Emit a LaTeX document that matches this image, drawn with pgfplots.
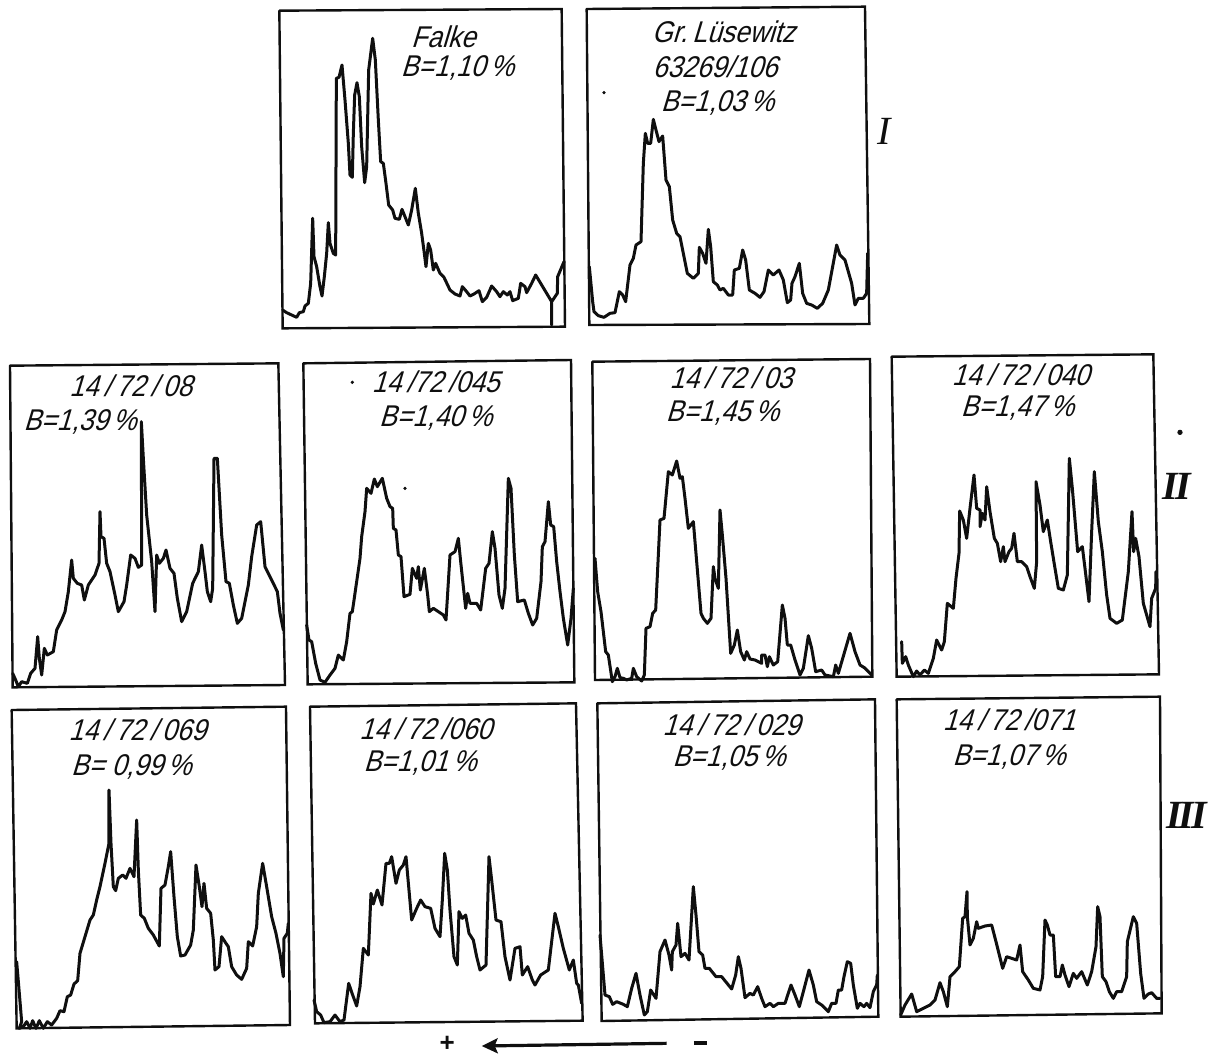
\documentclass[border=0pt]{standalone}
\usepackage{fontspec}
\usepackage{pgfplots}
\pgfplotsset{compat=1.18}
\usetikzlibrary{arrows.meta}
\setmainfont{Liberation Sans}
\newfontfamily\romanf{Liberation Serif}
\newfontfamily\lblf[FakeSlant=0.3,FakeStretch=0.88]{Liberation Sans}
\definecolor{ink}{gray}{0.06}
\pgfplotsset{
  panel/.style n args={6}{at={(#1pt,#2pt)},anchor=south west,width=#3pt,height=#4pt,
    xmin=0,xmax=#5,ymin=0,ymax=#6,scale only axis,axis lines=none,y dir=reverse,clip=false,ticks=none},
  curve/.style={ink,line width=1.5pt,line join=round,line cap=round,mark=none},
  frame/.style={ink,line width=1.2pt,line join=miter,line cap=round,mark=none},
  speck/.style={ink,only marks,mark=*,mark size=0.6pt}
}
\tikzset{lbl/.style={text=ink,font=\fontsize{15}{15}\selectfont\lblf,inner sep=0pt},
  rom/.style={text=ink,font=\fontsize{20}{20}\selectfont\romanf\itshape\bfseries,inner sep=0pt},
  romlight/.style={text=ink,font=\fontsize{20}{20}\selectfont\romanf\itshape,inner sep=0pt}}
\begin{document}
\begin{tikzpicture}
\path[use as bounding box] (0,0) rectangle (605pt,528.5pt);

% Falke
\begin{axis}[panel={135}{361}{155}{167.5}{930}{1005}]
\addplot[frame] coordinates {(28,32)(875,27)(885,980)(38,985)(28,32)};
\addplot[curve] coordinates {(38,930)(50,938)(65,945)(80,952)(88,938)(100,935)(105,918)(115,910)(122,850)(128,655)(132,770)(140,800)(150,860)(156,888)(163,830)(170,760)(175,668)(180,730)(190,760)(197,765)(199,235)(207,232)(216,195)(225,300)(235,430)(240,525)(247,532)(250,400)(254,285)(261,248)(268,290)(275,440)(284,548)(290,500)(296,210)(308,115)(316,180)(325,360)(332,485)(340,490)(348,550)(356,615)(368,630)(375,655)(388,658)(396,628)(405,650)(415,675)(425,630)(436,565)(445,640)(455,700)(463,760)(468,800)(475,730)(482,750)(490,810)(497,790)(510,820)(522,832)(540,870)(555,882)(570,888)(577,860)(590,875)(600,888)(612,882)(627,872)(637,905)(650,892)(665,858)(680,875)(690,890)(700,875)(712,885)(720,875)(728,902)(745,895)(752,850)(765,860)(770,878)(785,850)(797,825)(812,850)(830,880)(845,905)(845,975)(845,905)(862,880)(863,830)(882,785)};
\node[lbl] at (axis cs:520,110) {Falke};
\node[lbl] at (axis cs:562,205) {B=1,10\,\%};
\end{axis}

% Gr. Luesewitz
\begin{axis}[panel={290}{361}{160}{167.5}{960}{1005}]
\addplot[frame] coordinates {(20,27)(855,20)(868,972)(28,975)(20,27)};
\addplot[curve] coordinates {(28,800)(38,905)(42,935)(55,947)(72,952)(90,940)(105,938)(118,875)(128,885)(137,905)(150,795)(160,775)(168,735)(183,725)(190,490)(196,400)(203,430)(212,430)(220,358)(228,390)(237,425)(248,408)(258,540)(268,560)(278,660)(290,700)(300,710)(312,770)(322,820)(340,835)(355,820)(358,742)(368,760)(378,790)(385,688)(392,740)(400,845)(412,855)(420,870)(430,865)(445,885)(458,885)(463,810)(478,805)(488,750)(497,780)(508,870)(525,880)(540,892)(552,875)(565,810)(580,825)(597,810)(610,840)(622,908)(632,900)(636,850)(645,830)(658,790)(668,880)(680,910)(695,915)(712,925)(728,910)(745,870)(770,735)(780,765)(795,780)(815,850)(825,915)(835,895)(850,895)(860,880)(863,760)};
\addplot[speck] coordinates {(72,278)};
\node[lbl] at (axis cs:430,95) {Gr.\,Lüsewitz};
\node[lbl] at (axis cs:405,200) {63269/106};
\node[lbl] at (axis cs:412,308) {B=1,03\,\%};
\node[romlight] at (axis cs:912,395) {I};
\end{axis}

% 14/72/08
\begin{axis}[panel={0}{181}{147.5}{170}{885}{1020}]
\addplot[frame] coordinates {(30,32)(835,25)(855,990)(38,997)(30,32)};
\addplot[curve] coordinates {(38,955)(47,975)(55,995)(65,980)(82,985)(92,955)(105,940)(113,845)(118,910)(125,960)(133,880)(142,900)(160,890)(170,825)(185,795)(195,770)(205,710)(215,615)(220,670)(232,685)(245,690)(253,735)(265,690)(285,660)(297,625)(300,470)(303,545)(312,550)(320,625)(330,650)(345,720)(355,770)(372,740)(380,690)(392,600)(405,610)(415,637)(425,630)(424,200)(430,310)(440,480)(455,620)(465,770)(470,600)(478,625)(490,610)(498,585)(510,640)(522,655)(532,730)(545,800)(560,770)(578,685)(595,650)(605,570)(615,650)(622,710)(632,740)(638,700)(642,310)(652,310)(665,540)(678,680)(688,685)(700,750)(712,805)(725,790)(745,690)(755,605)(770,510)(782,500)(795,635)(815,675)(832,710)(840,775)(850,825)};
\node[lbl] at (axis cs:392,92) {14\,/\,72\,/\,08};
\node[lbl] at (axis cs:240,200) {B=1,39\,\%};
\end{axis}

% 14/72/045
\begin{axis}[panel={147.5}{181}{147.5}{170}{885}{1020}]
\addplot[frame] coordinates {(25,25)(828,15)(838,982)(38,988)(25,25)};
\addplot[curve] coordinates {(35,810)(42,855)(50,860)(62,925)(75,975)(90,982)(105,960)(120,940)(130,900)(145,915)(155,860)(165,775)(172,770)(185,680)(195,610)(200,545)(210,470)(215,400)(228,415)(238,372)(247,395)(262,370)(275,430)(285,455)(293,460)(295,520)(303,525)(310,600)(318,605)(327,725)(345,718)(352,640)(365,670)(370,635)(376,705)(388,640)(398,720)(403,770)(415,760)(430,770)(445,780)(453,795)(465,600)(480,590)(490,550)(497,620)(512,760)(518,715)(525,745)(545,745)(557,765)(572,640)(582,625)(592,530)(600,580)(612,720)(622,760)(630,700)(640,370)(648,400)(658,600)(668,740)(688,735)(700,775)(713,810)(725,790)(738,680)(742,575)(750,560)(760,440)(767,510)(776,515)(785,620)(795,710)(805,790)(818,870)(828,790)(835,700)};
\addplot[speck] coordinates {(172,82)(330,400)};
\node[lbl] at (axis cs:422,80) {14\,/72\,/045};
\node[lbl] at (axis cs:422,190) {B=1,40\,\%};
\end{axis}

% 14/72/03
\begin{axis}[panel={292.5}{183.5}{147.5}{167.5}{885}{1005}]
\addplot[frame] coordinates {(22,20)(855,12)(862,965)(30,975)(22,20)};
\addplot[curve] coordinates {(30,610)(38,710)(48,770)(62,890)(70,900)(82,980)(90,965)(97,940)(105,968)(115,970)(125,975)(140,970)(145,940)(155,965)(170,978)(178,960)(183,820)(195,815)(203,775)(212,765)(220,600)(225,495)(237,490)(250,350)(262,360)(275,318)(285,370)(292,365)(300,430)(310,520)(325,500)(335,620)(348,775)(355,790)(367,805)(378,790)(385,635)(390,670)(400,700)(405,465)(412,540)(423,670)(437,895)(448,870)(457,825)(467,890)(478,915)(485,890)(495,912)(510,915)(530,925)(530,900)(540,900)(547,935)(553,905)(565,930)(578,920)(592,750)(600,790)(607,870)(617,870)(630,915)(645,960)(655,940)(670,842)(680,880)(692,950)(710,945)(720,960)(745,965)(752,930)(760,955)(795,835)(810,890)(825,930)(838,938)(860,960)};
\node[lbl] at (axis cs:438,68) {14\,/\,72\,/\,03};
\node[lbl] at (axis cs:412,175) {B=1,45\,\%};
\end{axis}

% 14/72/040
\begin{axis}[panel={442.5}{186}{160}{170}{960}{1020}]
\addplot[frame] coordinates {(20,35)(805,28)(822,988)(35,995)(20,35)};
\addplot[curve] coordinates {(50,890)(52,955)(62,935)(70,960)(85,995)(95,978)(105,990)(118,975)(130,985)(145,940)(155,885)(170,915)(178,890)(187,775)(205,790)(213,700)(222,625)(224,498)(235,525)(245,580)(255,490)(267,390)(275,490)(285,495)(285,545)(292,505)(300,525)(305,425)(315,500)(328,580)(337,595)(347,650)(355,605)(360,650)(372,620)(380,610)(387,565)(397,650)(410,650)(425,665)(435,695)(448,730)(455,650)(453,410)(465,480)(475,560)(487,525)(497,590)(510,670)(520,730)(535,735)(547,690)(553,340)(562,430)(578,620)(592,605)(600,670)(612,770)(620,560)(628,380)(640,530)(652,620)(665,750)(675,820)(695,835)(712,825)(730,680)(741,500)(746,620)(752,580)(762,635)(775,775)(795,845)(800,760)(812,730)(813,680)};
\addplot[ink,only marks,mark=*,mark size=1.1pt] coordinates {(885,262)};
\node[lbl] at (axis cs:407,88) {14\,/\,72\,/\,040};
\node[lbl] at (axis cs:397,190) {B=1,47\,\%};
\node[rom] at (axis cs:875,425) {I\kern-1.5pt I};
\end{axis}

% 14/72/069
\begin{axis}[panel={0}{11}{150}{167.5}{900}{1005}]
\addplot[frame] coordinates {(35,30)(858,20)(870,975)(50,985)(35,30)};
\addplot[curve] coordinates {(50,785)(58,880)(65,965)(58,985)(70,980)(80,965)(90,985)(98,962)(108,985)(118,962)(130,985)(142,965)(155,975)(170,955)(180,932)(192,935)(202,890)(212,885)(222,852)(233,842)(240,760)(255,710)(270,660)(280,645)(290,600)(300,560)(315,490)(327,430)(327,270)(333,430)(340,560)(347,572)(355,535)(368,525)(378,535)(390,505)(402,530)(410,360)(415,510)(422,645)(433,655)(445,685)(460,705)(478,738)(483,565)(495,555)(505,500)(512,455)(522,590)(532,710)(542,768)(555,765)(572,735)(580,690)(588,495)(598,560)(606,620)(612,550)(620,625)(632,640)(640,720)(645,810)(657,800)(665,710)(678,730)(685,740)(695,800)(710,825)(725,838)(740,805)(745,725)(758,738)(770,680)(775,580)(788,490)(800,560)(815,650)(828,700)(840,760)(850,830)(852,715)(862,700)(865,670)};
\node[lbl] at (axis cs:412,90) {14\,/\,72\,/\,069};
\node[lbl] at (axis cs:394,200) {B= 0,99\,\%};
\end{axis}

% 14/72/060
\begin{axis}[panel={150}{11}{145}{167.5}{870}{1005}]
\addplot[frame] coordinates {(30,20)(828,10)(848,962)(45,970)(30,20)};
\addplot[curve] coordinates {(42,900)(50,935)(62,945)(72,968)(90,965)(105,945)(120,965)(132,960)(146,850)(158,885)(170,918)(180,860)(190,745)(205,765)(213,580)(220,612)(232,570)(246,615)(258,490)(268,490)(275,470)(288,550)(298,510)(310,495)(318,470)(335,660)(350,625)(362,600)(375,620)(392,625)(405,685)(420,710)(427,600)(434,460)(442,510)(450,630)(462,770)(472,795)(477,635)(487,655)(497,645)(507,700)(520,720)(530,770)(540,810)(558,795)(567,470)(575,540)(588,660)(603,665)(615,770)(630,840)(645,745)(660,740)(667,825)(683,800)(697,840)(705,855)(722,825)(745,810)(765,640)(775,680)(790,745)(808,810)(820,780)(830,850)(835,855)(845,910)};
\node[lbl] at (axis cs:377,85) {14\,/\,72\,/060};
\node[lbl] at (axis cs:360,190) {B=1,01\,\%};
\end{axis}

% 14/72/029
\begin{axis}[panel={295}{13.5}{150}{167.5}{900}{1005}]
\addplot[frame] coordinates {(22,25)(855,13)(865,965)(35,978)(22,25)};
\addplot[curve] coordinates {(30,720)(40,840)(45,900)(58,905)(68,928)(80,920)(100,928)(112,935)(125,880)(138,835)(150,900)(163,960)(172,950)(182,885)(198,910)(210,770)(225,735)(237,780)(245,825)(247,770)(258,750)(263,685)(273,785)(285,775)(297,795)(310,575)(318,660)(327,770)(338,780)(345,820)(358,820)(378,845)(395,845)(425,882)(437,840)(445,785)(453,820)(465,908)(480,895)(490,900)(503,875)(515,910)(525,935)(540,925)(550,935)(565,925)(585,925)(603,870)(615,900)(628,935)(640,890)(657,825)(670,870)(680,920)(695,930)(715,950)(725,925)(738,925)(745,885)(755,885)(762,845)(772,800)(782,805)(790,870)(802,940)(810,925)(822,935)(830,925)(840,938)(850,890)(860,870)(862,840)};
\node[lbl] at (axis cs:424,88) {14\,/\,72\,/\,029};
\node[lbl] at (axis cs:417,190) {B=1,05\,\%};
\end{axis}

% 14/72/071
\begin{axis}[panel={445}{13.5}{160}{170}{960}{1020}]
\addplot[frame] coordinates {(20,28)(810,20)(815,970)(32,980)(20,28)};
\addplot[curve] coordinates {(32,975)(45,945)(65,912)(80,965)(100,955)(120,945)(135,930)(150,878)(160,905)(172,950)(180,860)(195,845)(208,830)(218,685)(225,680)(231,605)(232,680)(240,765)(250,745)(260,695)(265,715)(285,708)(305,705)(318,755)(338,835)(350,800)(365,805)(380,810)(390,765)(398,845)(415,870)(430,895)(450,900)(458,860)(465,690)(472,705)(480,735)(490,735)(497,860)(510,860)(517,825)(525,855)(537,890)(550,850)(560,865)(575,845)(592,885)(605,845)(618,770)(623,650)(630,680)(637,860)(648,875)(658,905)(670,925)(680,905)(695,905)(710,860)(712,755)(730,680)(740,700)(752,850)(762,925)(775,912)(785,908)(800,925)(810,925)};
\node[lbl] at (axis cs:357,90) {14\,/\,72\,/071};
\node[lbl] at (axis cs:357,200) {B=1,07\,\%};
\node[rom] at (axis cs:890,375) {I\kern-1.5pt I\kern-1.5pt I};
\end{axis}

% direction arrow
\begin{axis}[panel={210}{0}{155}{18.5}{930}{111}]
\addplot[ink,line width=1.6pt,mark=none,-{Stealth[length=8pt,width=7.5pt,inset=1.5pt]}] coordinates {(740,70)(185,78)};
\node[text=ink,font=\fontsize{13}{13}\selectfont\bfseries,inner sep=0pt] at (axis cs:82,72) {+};
\addplot[ink,line width=2pt,mark=none] coordinates {(822,68)(862,68)};
\end{axis}
\end{tikzpicture}
\end{document}
